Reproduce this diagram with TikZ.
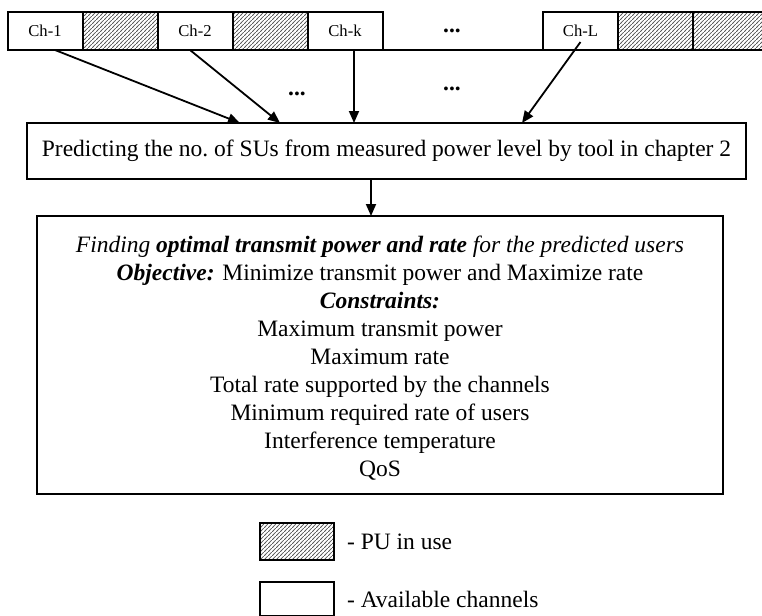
\documentclass[tikz,border=0pt]{standalone}
\usepackage{fontspec}
\setmainfont{Liberation Serif}
\usetikzlibrary{arrows.meta, positioning, calc, patterns.meta}
\tikzdeclarepattern{name=hatch, type=uncolored,
  bounding box={(0pt,0pt) and (2pt,2pt)}, tile size={(2pt,2pt)},
  code={\draw[line width=.45pt] (-.5pt,-.5pt) -- (2.5pt,2.5pt);}}
\tikzset{
  cell/.style={draw, line width=1pt, minimum width=37.5pt, minimum height=19pt,
    inner sep=0pt, outer sep=0pt, font=\fontsize{8.3}{10}\selectfont},
  hatched/.style={cell, pattern=hatch, pattern color=black!65},
  arr/.style={-{Triangle[length=6pt,width=5pt]}, line width=.9pt},
  box/.style={draw, line width=.9pt, inner sep=0pt, outer sep=0pt},
  dots/.style={font=\bfseries\fontsize{11.75}{14}\selectfont}
}

\begin{document}
\begin{tikzpicture}[x=.5pt, y=-.5pt, font=\fontsize{11.75}{14}\selectfont]
	\clip (0,0) rectangle (762,616);
	% channel row
	\node[cell] (ch1) at (45,31) {Ch-1};
	\node[hatched, right=0pt of ch1] (pu1) {};
	\node[cell, right=0pt of pu1] (ch2) {Ch-2};
	\node[hatched, right=0pt of ch2] (pu2) {};
	\node[cell, right=0pt of pu2] (chk) {Ch-k};
	\node[cell] (chL) at (580.5,31) {Ch-L};
	\node[hatched, right=0pt of chL] (puL1) {};
	\node[hatched, right=0pt of puL1] (puL2) {};
	\draw[line width=1pt] (chk.south east) -- (chL.south west);
	\node[dots] (dtop) at (452,31) {...};
	\node[dots] (dmid1) at (297,94) {...};
	\node[dots] (dmid2) at (452,89) {...};
	% boxes
	\node[box, minimum width=359.5pt, minimum height=28pt] (pred) at (386.5,151)
	{Predicting the no.\ of SUs from measured power level by tool in chapter 2};
	\node[box, minimum width=343pt, minimum height=139pt, anchor=north] (opt) at (380,216) {};
	\node[align=center] (goal) at (380,358) {%
		\textit{Finding \textbf{optimal transmit power and rate} for the predicted users}\\
		\textbf{\textit{Objective:}} Minimize transmit power and Maximize rate\\
		\textbf{\textit{Constraints:}}\\
		Maximum transmit power\\
		Maximum rate\\
		Total rate supported by the channels\\
		Minimum required rate of users\\
		Interference temperature\\
		QoS};
	% arrows
	\draw[arr] ([xshift=5pt]ch1.south) -- ($(pred.north west)+(213,0)$);
	\draw[arr] ([xshift=-2.5pt]ch2.south) -- ($(pred.north west)+(253,0)$);
	\draw[arr] ([xshift=4.5pt]chk.south) -- ($(pred.north west)+(327,0)$);
	\draw[arr] ([yshift=-5.5pt]chL.center) -- ($(pred.north west)+(495,0)$);
	\draw[arr] ($(pred.south west)+(344,0)$) -- ($(opt.north west)+(334,0)$);
	% legend
	\node[hatched, minimum width=37pt, minimum height=18.5pt, anchor=north west] (legpu) at (260,523) {};
	\node[cell, minimum width=37pt, minimum height=17pt, anchor=north west] (legfree) at (260,582) {};
	\node[right=3pt of legpu] (legputxt) {- PU in use};
	\node[right=3pt of legfree] (legfreetxt) {- Available channels};
\end{tikzpicture}
\end{document}
